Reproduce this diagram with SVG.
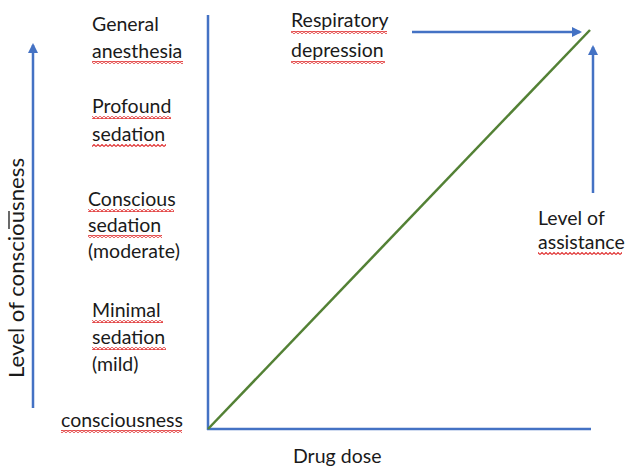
<svg xmlns="http://www.w3.org/2000/svg" width="625" height="466" viewBox="0 0 625 466">
<style>
.t{font-family:Lato,"Open Sans","Liberation Sans",sans-serif;font-size:19.5px;fill:#1a1a1a}
.ax{stroke:#4472c4;stroke-width:2.5;fill:none}
</style>
<defs>
<marker id="ah" markerWidth="10" markerHeight="10" refX="8" refY="5" orient="auto" markerUnits="userSpaceOnUse">
<path d="M0,0 L10,5 L0,10 z" fill="#4472c4"/>
</marker>
<pattern id="sq" width="4" height="3" patternUnits="userSpaceOnUse">
<path d="M0,2.5 L2,0.5 L4,2.5" fill="none" stroke="#e03030" stroke-width="1.1"/>
</pattern>
</defs>
<rect width="625" height="466" fill="#fff"/>
<g id="connectors">
<line class="ax" x1="208" y1="15" x2="208" y2="430"/>
<line class="ax" x1="207" y1="429" x2="591" y2="429"/>
<line x1="208" y1="429" x2="590" y2="30" stroke="#538135" stroke-width="2.5"/>
<line class="ax" x1="33" y1="408" x2="33" y2="45" marker-end="url(#ah)"/>
<line class="ax" x1="412" y1="32" x2="580" y2="32" marker-end="url(#ah)"/>
<line class="ax" x1="593" y1="193" x2="593" y2="47" marker-end="url(#ah)"/>
</g>
<g id="y-axis-label">
<text class="t" style="font-size:21px" transform="translate(24,378) rotate(-90)" textLength="220" lengthAdjust="spacingAndGlyphs">Level of consciousness</text>
<line x1="9" y1="211" x2="9" y2="229" stroke="#1a1a1a" stroke-width="1.3"/>
</g>
<g id="general-anesthesia">
<text class="t" x="92" y="31">General</text>
<text class="t" x="92" y="58">anesthesia</text>
<rect x="92" y="61" width="91" height="3" fill="url(#sq)"/>
</g>
<g id="profound-sedation">
<text class="t" x="92" y="113">Profound</text>
<rect x="92" y="116" width="79" height="3" fill="url(#sq)"/>
<text class="t" x="92" y="141">sedation</text>
<rect x="92" y="144" width="74" height="3" fill="url(#sq)"/>
</g>
<g id="conscious-sedation">
<text class="t" x="88" y="206">Conscious</text>
<rect x="88" y="209" width="86" height="3" fill="url(#sq)"/>
<text class="t" x="88" y="232">sedation</text>
<rect x="88" y="235" width="74" height="3" fill="url(#sq)"/>
<text class="t" x="88" y="258">(moderate)</text>
</g>
<g id="minimal-sedation">
<text class="t" x="92" y="317">Minimal</text>
<rect x="92" y="320" width="71" height="3" fill="url(#sq)"/>
<text class="t" x="92" y="344">sedation</text>
<rect x="92" y="347" width="74" height="3" fill="url(#sq)"/>
<text class="t" x="92" y="371">(mild)</text>
</g>
<g id="consciousness">
<text class="t" x="61" y="427">consciousness</text>
<rect x="61" y="430" width="121" height="3" fill="url(#sq)"/>
</g>
<g id="respiratory-depression">
<text class="t" x="291" y="27">Respiratory</text>
<rect x="291" y="31" width="96" height="3" fill="url(#sq)"/>
<text class="t" x="291" y="57">depression</text>
<rect x="291" y="61" width="94" height="3" fill="url(#sq)"/>
</g>
<g id="level-of-assistance">
<text class="t" x="538" y="225">Level of</text>
<text class="t" x="538" y="249">assistance</text>
<rect x="538" y="252" width="84" height="3" fill="url(#sq)"/>
</g>
<g id="drug-dose">
<text class="t" x="293" y="463">Drug dose</text>
</g>
</svg>
